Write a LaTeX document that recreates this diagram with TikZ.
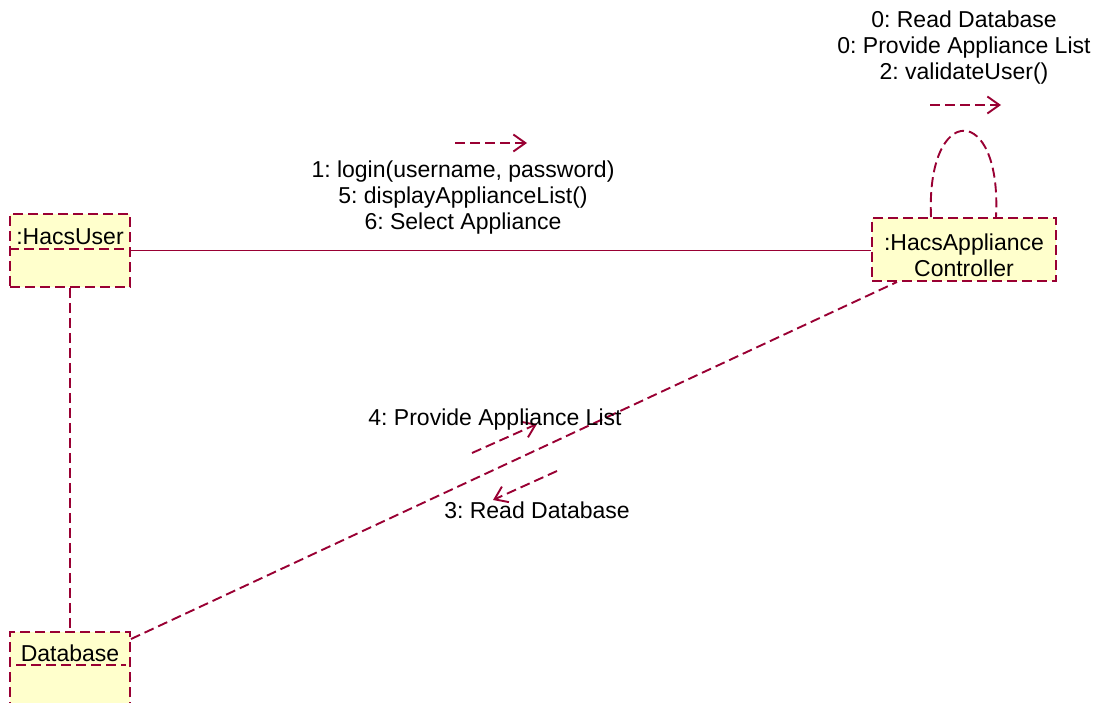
\documentclass[tikz,border=0pt]{standalone}
\usepackage{fontspec}
\setmainfont{Liberation Sans}
\frenchspacing
\usetikzlibrary{arrows.meta,positioning}
\definecolor{umlred}{RGB}{153,0,51}
\definecolor{umlfill}{RGB}{255,255,204}
\tikzstyle{objbox}=[draw=umlred,fill=umlfill,line width=1.9pt,dash pattern=on 10pt off 5pt,inner sep=0pt]
\tikzstyle{link}=[umlred,line width=1.9pt]
\tikzstyle{dlink}=[link,dash pattern=on 10pt off 5pt]
\tikzstyle{msgarrow}=[dlink,-{Straight Barb[length=12pt,width=17pt]}]
\tikzstyle{msg}=[align=center,inner sep=0pt,anchor=north,font=\fontsize{23}{26}\selectfont]
\begin{document}
\begin{tikzpicture}[x=1pt,y=-1pt]
\useasboundingbox (0,0) rectangle (1104,703);
% objects
\node[objbox,minimum width=120pt,minimum height=73pt] (user) at (70,250.5) {};
\node[objbox,minimum width=184pt,minimum height=63pt] (ctrl) at (964,249.5) {};
\node[objbox,minimum width=120pt,minimum height=80pt] (db) at (70,672) {};
\node[msg,below=15pt of user.north] (usertxt) {:HacsUser};
\node[msg,below=17pt of ctrl.north] (ctrltxt) {:HacsAppliance\\Controller};
\node[msg,below=14pt of db.north] (dbtxt) {Database};
\draw[dlink] ([yshift=-36pt]user.north west) -- ([yshift=-36pt]user.north east);
\draw[dlink] ([xshift=7pt,yshift=-34pt]db.north west) -- ([xshift=-5pt,yshift=-34pt]db.north east);
% links
\draw[link] (user.east) -- (user.east -| ctrl.west);
\draw[dlink] (user.south) -- (db.north);
\draw[dlink] ([yshift=-8pt]db.north east) -- ([xshift=26pt]ctrl.south west);
\coordinate (loopl) at ([xshift=-33pt]ctrl.north);
\coordinate (loopr) at ([xshift=32pt]ctrl.north);
\draw[dlink] (loopl) .. controls (926,102) and (1002,102) .. (loopr);
% messages
\coordinate (m1s) at (455,143); \coordinate (m1e) at (527,143);
\draw[msgarrow] (m1s) -- (m1e);
\node[msg] (m1) at (463,161) {1: login(username, password)\\5: displayApplianceList()\\6: Select Appliance};
\coordinate (m0s) at (930,105); \coordinate (m0e) at (1001,105);
\draw[msgarrow] (m0s) -- (m0e);
\node[msg] (m0) at (964,11) {0: Read Database\\0: Provide Appliance List\\2: validateUser()};
\coordinate (m4s) at (472,453); \coordinate (m4e) at (537,424);
\draw[msgarrow] (m4s) -- (m4e);
\node[msg] (m4) at (495,409) {4: Provide Appliance List};
\coordinate (m3s) at (557,471); \coordinate (m3e) at (493,500);
\draw[msgarrow] (m3s) -- (m3e);
\node[msg] (m3) at (537,502) {3: Read Database};
\end{tikzpicture}
\end{document}
